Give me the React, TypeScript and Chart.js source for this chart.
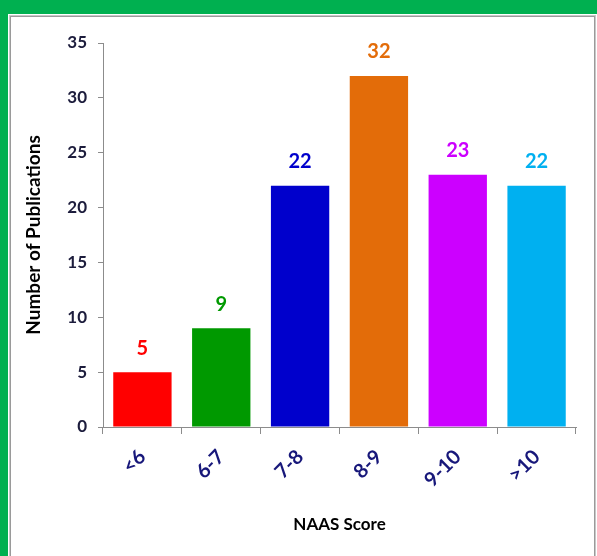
import React, { useEffect, useRef } from "react";
import { Chart, registerables } from "chart.js";

Chart.register(...registerables);

const categories = ["<6", "6-7", "7-8", "8-9", "9-10", ">10"];
const publications = [5, 9, 22, 32, 23, 22];
const barColors = ["#FF0000", "#009900", "#0000CC", "#E36C09", "#CC00FF", "#00B0F0"];
const yTicks = [0, 5, 10, 15, 20, 25, 30, 35];

const W = 597;
const H = 556;

// Value labels above each bar, in the bar's own colour
const valueLabels = {
  id: "valueLabels",
  afterDatasetsDraw(chart: any) {
    const { ctx } = chart;
    const meta = chart.getDatasetMeta(0);
    const ds = chart.data.datasets[0];
    ctx.save();
    ctx.font = "bold 20px Lato";
    ctx.textAlign = "center";
    ctx.textBaseline = "middle";
    meta.data.forEach((bar: any, i: number) => {
      ctx.fillStyle = (ds.backgroundColor as string[])[i];
      ctx.fillText(String(ds.data[i]), bar.x, bar.y - 24);
    });
    ctx.restore();
  },
};

export default function App() {
  const ref = useRef<HTMLCanvasElement | null>(null);

  useEffect(() => {
    if (!ref.current) return;
    const chart = new Chart(ref.current, {
      type: "bar",
      data: {
        labels: categories,
        datasets: [
          {
            data: publications,
            backgroundColor: barColors,
            borderWidth: 0,
            barPercentage: 0.74,
            categoryPercentage: 1,
          },
        ],
      },
      options: {
        responsive: false,
        animation: false,
        devicePixelRatio: 1,
        layout: { padding: { left: 0, right: 21, top: 43, bottom: 0 } },
        plugins: { legend: { display: false }, tooltip: { enabled: false } },
        scales: {
          x: {
            grid: {
              display: true,
              drawOnChartArea: false,
              drawTicks: true,
              tickLength: 7,
              color: "#8c8c8c",
              offset: true,
            },
            border: { display: true, color: "#8c8c8c", width: 1 },
            ticks: {
              color: "#17177a",
              font: { family: "Lato", size: 20, weight: "bold" },
              minRotation: 45,
              maxRotation: 45,
              padding: 11,
            },
            title: {
              display: true,
              text: "NAAS Score",
              color: "#000000",
              font: { family: "Lato", size: 17, weight: "bold" },
              padding: { top: 0, bottom: 21 },
            },
            afterFit(scale: any) {
              scale.height = H - 427;
            },
          },
          y: {
            min: 0,
            max: 35,
            afterBuildTicks(scale: any) {
              scale.ticks = yTicks.map((v) => ({ value: v }));
            },
            grid: {
              display: true,
              drawOnChartArea: false,
              drawTicks: true,
              tickLength: 5,
              color: "#8c8c8c",
            },
            border: { display: true, color: "#8c8c8c", width: 1 },
            ticks: {
              color: "#1c1c3c",
              font: { family: "Lato", size: 17, weight: "bold" },
              padding: 11,
            },
            title: {
              display: true,
              text: "Number of Publications",
              color: "#000000",
              font: { family: "Lato", size: 19, weight: "bold" },
              padding: { top: 22, bottom: 0 },
            },
            afterFit(scale: any) {
              scale.width = 103;
            },
          },
        },
      },
      plugins: [valueLabels],
    });
    return () => chart.destroy();
  }, []);

  return (
    <div
      style={{
        position: "fixed",
        left: 0,
        top: 0,
        width: W,
        height: H,
        background: "#00B050",
        overflow: "hidden",
      }}
    >
      <div
        style={{
          position: "absolute",
          left: 8,
          top: 14,
          width: W - 8,
          height: H,
          background: "#ffffff",
        }}
      >
        <div
          style={{
            position: "absolute",
            left: 1,
            top: 1,
            right: 1,
            height: H + 20,
            borderTop: "1px solid #c8c8c8",
            borderLeft: "1px solid #c8c8c8",
            borderRight: "1px solid #c8c8c8",
            boxShadow: "inset 1px 1px 0 #9a9a9a, inset -1px 0 0 #9a9a9a",
          }}
        />
      </div>
      <canvas
        ref={ref}
        width={W}
        height={H}
        style={{ position: "absolute", left: 0, top: 0, width: W, height: H }}
      />
    </div>
  );
}
